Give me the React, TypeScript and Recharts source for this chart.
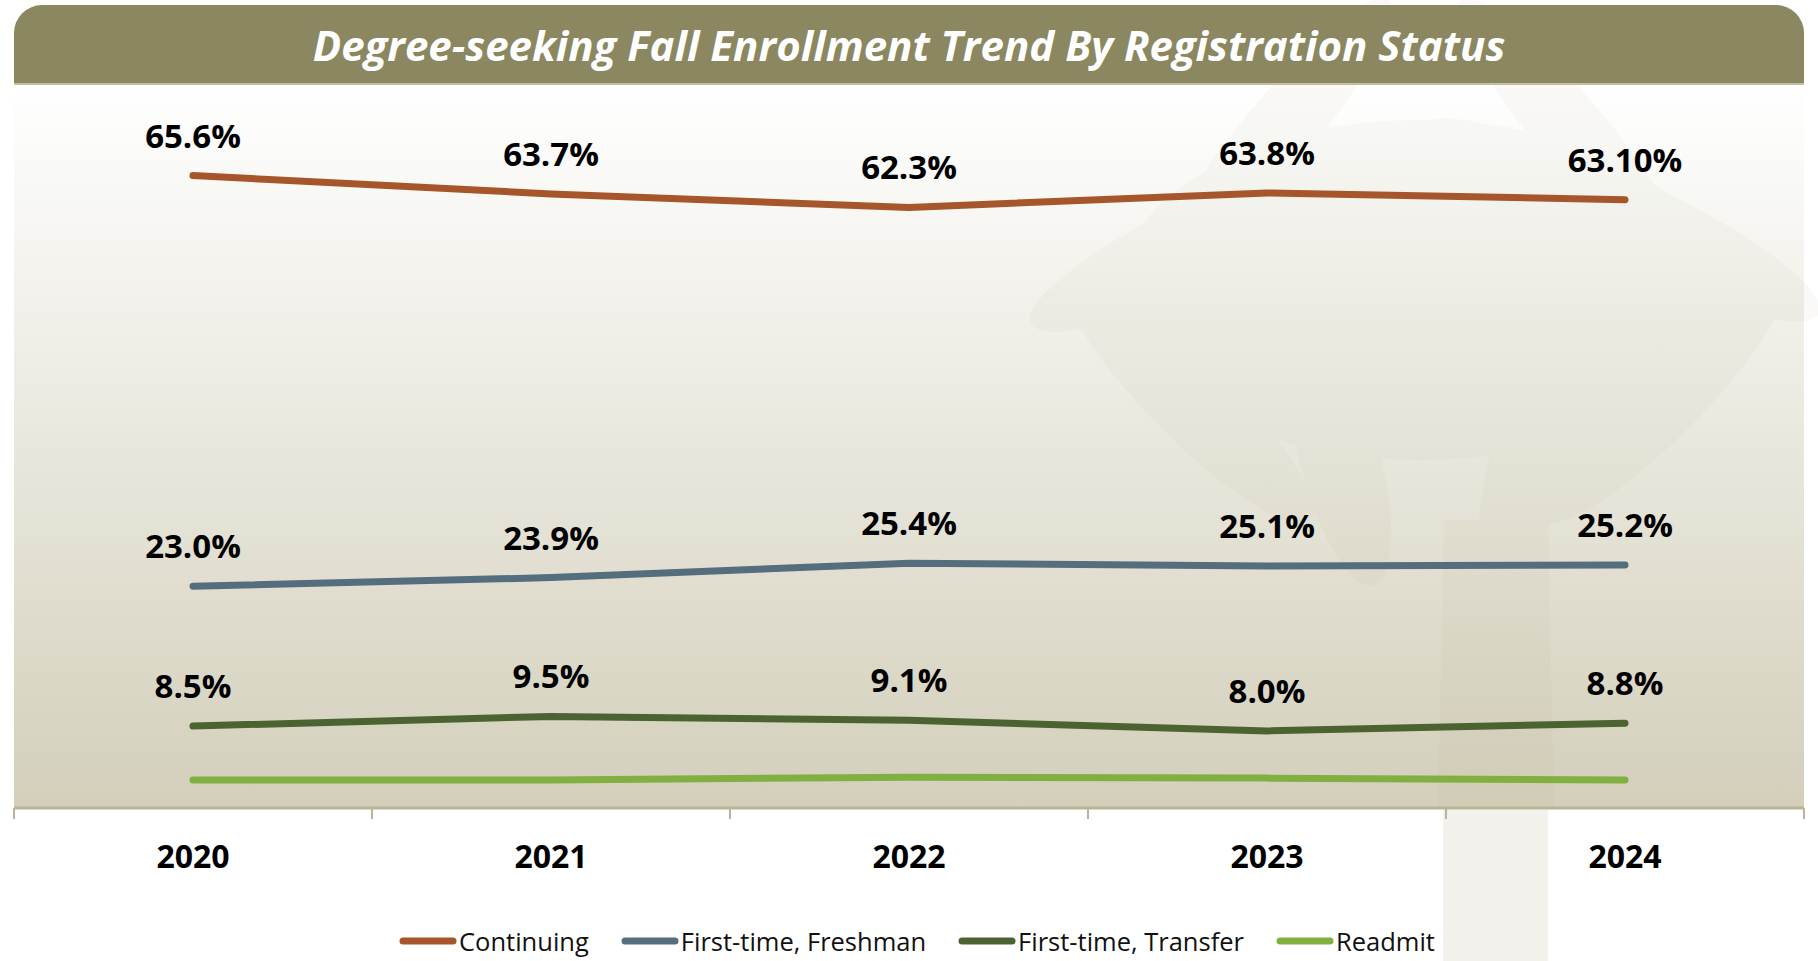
import React from 'react';
import { LineChart, Line, XAxis, YAxis, CartesianGrid, LabelList } from 'recharts';

const years = ['2020', '2021', '2022', '2023', '2024'];
const continuing = [65.6, 63.7, 62.3, 63.8, 63.1];
const continuingLabels = ['65.6%', '63.7%', '62.3%', '63.8%', '63.10%'];
const freshman = [23.0, 23.9, 25.4, 25.1, 25.2];
const freshmanLabels = ['23.0%', '23.9%', '25.4%', '25.1%', '25.2%'];
const transfer = [8.5, 9.5, 9.1, 8.0, 8.8];
const transferLabels = ['8.5%', '9.5%', '9.1%', '8.0%', '8.8%'];
const readmit = [2.9, 2.9, 3.2, 3.1, 2.9];

const seriesNames = ['Continuing', 'First-time, Freshman', 'First-time, Transfer', 'Readmit'];
const seriesKeys = ['continuing', 'freshman', 'transfer', 'readmit'];
const seriesColors = ['#a6562a', '#546e7e', '#4a6330', '#82b040'];

const title = 'Degree-seeking Fall Enrollment Trend By Registration Status';

const data = years.map((y, i) => ({
  year: y,
  continuing: continuing[i],
  freshman: freshman[i],
  transfer: transfer[i],
  readmit: readmit[i],
}));

const W = 1818;
const H = 961;
const AXIS_H = 30;
const M = { top: 85, right: 14, bottom: 153 - AXIS_H, left: 14 };
const HALF = (W - M.left - M.right) / years.length / 2;
const AXIS_COLOR = '#b9b496';
const FONT = '"Open Sans", "DejaVu Sans", sans-serif';

const YearTick = (props: any) => {
  const { x, y, payload, index } = props;
  return (
    <g>
      <line x1={x - HALF} x2={x - HALF} y1={y} y2={y + 11} stroke={AXIS_COLOR} strokeWidth={2} />
      {index === years.length - 1 && (
        <line x1={x + HALF} x2={x + HALF} y1={y} y2={y + 11} stroke={AXIS_COLOR} strokeWidth={2} />
      )}
      <text x={x} y={y + 60} textAnchor="middle" fontFamily={FONT} fontWeight={700} fontSize={32} fill="#000">
        {payload.value}
      </text>
    </g>
  );
};

const makeLabel = (labels: string[]) => (props: any) => {
  const { x, y, index } = props;
  return (
    <text x={x} y={y - 40 + 12} textAnchor="middle" fontFamily={FONT} fontWeight={700} fontSize={33} fill="#000">
      {labels[index]}
    </text>
  );
};

const Palm = () => (
  <g>
    <rect x={1443} y={810} width={105} height={151} fill="#f3f1ec" />
    <g fill="#9a9265" opacity={0.045}>
      <path d="M1444 520 L1548 520 L1554 807 L1438 807 Z" />
      <ellipse cx={1420} cy={290} rx={300} ry={170} />
      <ellipse cx={1230} cy={230} rx={220} ry={45} transform="rotate(-25 1230 230)" />
      <ellipse cx={1620} cy={220} rx={220} ry={45} transform="rotate(25 1620 220)" />
      <ellipse cx={1190} cy={400} rx={170} ry={40} transform="rotate(45 1190 400)" />
      <ellipse cx={1660} cy={400} rx={170} ry={40} transform="rotate(-45 1660 400)" />
      <ellipse cx={1340} cy={460} rx={130} ry={40} transform="rotate(75 1340 460)" />
      <ellipse cx={1530} cy={460} rx={130} ry={40} transform="rotate(-75 1530 460)" />
      <ellipse cx={1280} cy={130} rx={170} ry={35} transform="rotate(-50 1280 130)" />
      <ellipse cx={1570} cy={130} rx={170} ry={35} transform="rotate(50 1570 130)" />
    </g>
  </g>
);

export default function App() {
  return (
    <div style={{ position: 'fixed', left: 0, top: 0, width: W, height: H, background: '#fff', overflow: 'hidden' }}>
      <LineChart width={W} height={H} data={data} margin={M}>
        <defs>
          <linearGradient id="plotBg" x1="0" y1="0" x2="0" y2="1">
            <stop offset="0%" stopColor="#ffffff" />
            <stop offset="100%" stopColor="#d3cfbb" />
          </linearGradient>
        </defs>
        <CartesianGrid horizontal={false} vertical={false} fill="url(#plotBg)" fillOpacity={1} />
        <Palm />
        <XAxis
          dataKey="year"
          height={AXIS_H}
          padding={{ left: HALF, right: HALF }}
          tickLine={false}
          tickSize={0}
          tickMargin={0}
          interval={0}
          axisLine={{ stroke: AXIS_COLOR, strokeWidth: 3 }}
          tick={<YearTick />}
        />
        <YAxis hide domain={[0, 75]} />
        {seriesKeys.map((k, i) => (
          <Line
            key={k}
            type="linear"
            dataKey={k}
            name={seriesNames[i]}
            stroke={seriesColors[i]}
            strokeWidth={7}
            strokeLinecap="round"
            strokeLinejoin="round"
            dot={false}
            activeDot={false}
            isAnimationActive={false}
          >
            {i === 0 && <LabelList dataKey={k} content={makeLabel(continuingLabels)} />}
            {i === 1 && <LabelList dataKey={k} content={makeLabel(freshmanLabels)} />}
            {i === 2 && <LabelList dataKey={k} content={makeLabel(transferLabels)} />}
          </Line>
        ))}
      </LineChart>
      <div
        style={{
          position: 'absolute',
          left: M.left,
          top: 5,
          width: W - M.left - M.right,
          height: 78,
          background: '#8b8760',
          borderRadius: '28px 28px 0 0',
          borderBottom: '2px solid #c2be9f',
          display: 'flex',
          alignItems: 'center',
          justifyContent: 'center',
          color: '#fff',
          fontFamily: FONT,
          fontWeight: 700,
          fontStyle: 'italic',
          fontSize: 42,
          letterSpacing: 0,
        }}
      >
        {title}
      </div>
      <div
        style={{
          position: 'absolute',
          left: 8,
          top: 922,
          width: W,
          height: 38,
          display: 'flex',
          justifyContent: 'center',
          alignItems: 'center',
          fontFamily: FONT,
          fontSize: 25.5,
          color: '#111',
        }}
      >
        {seriesNames.map((n, i) => (
          <div key={n} style={{ display: 'flex', alignItems: 'center', marginRight: i < seriesNames.length - 1 ? 32 : 0 }}>
            <svg width={58} height={12} style={{ marginRight: 2 }}>
              <line x1={4} x2={54} y1={6} y2={6} stroke={seriesColors[i]} strokeWidth={7} strokeLinecap="round" />
            </svg>
            <span>{n}</span>
          </div>
        ))}
      </div>
    </div>
  );
}
